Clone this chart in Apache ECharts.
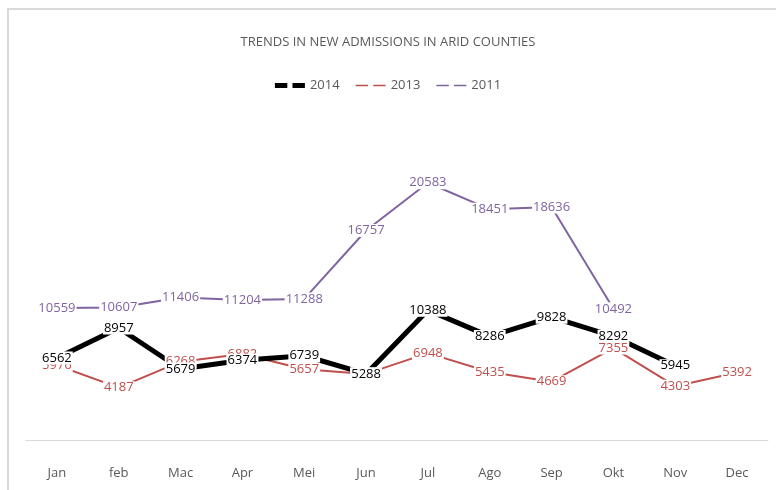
<!DOCTYPE html>
<html>
<head>
<meta charset="utf-8">
<script src="https://cdn.jsdelivr.net/npm/echarts@6/dist/echarts.min.js"></script>
<style>
  html, body { margin: 0; padding: 0; background: #fff; }
  #main { width: 776px; height: 490px; }
</style>
</head>
<body>
<div id="main"></div>
<script>
// data
var months = ['Jan', 'feb', 'Mac', 'Apr', 'Mei', 'Jun', 'Jul', 'Ago', 'Sep', 'Okt', 'Nov', 'Dec']
var y2014 = [6562, 8957, 5679, 6374, 6739, 5288, 10388, 8286, 9828, 8292, 5945, null]
var y2013 = [5976, 4187, 6268, 6882, 5657, 5288, 6948, 5435, 4669, 7355, 4303, 5392]
var y2011 = [10559, 10607, 11406, 11204, 11288, 16757, 20583, 18451, 18636, 10492, null, null]

var font = '"Liberation Sans Narrow", "Open Sans", sans-serif'
var dashThick = 'path://M0,0H12V5H0Z M17,0H29V5H17Z'
var dashThin = 'path://M0,0H0.01V0.01H0Z M0,2H12V3.4H0Z M17,2H29V3.4H17Z M0,5.4H0.01V5.41H0Z'

function lineSeries(name, data, color, width) {
  return {
    name: name,
    type: 'line',
    data: data,
    // tiny invisible symbol so the value labels are drawn
    symbol: 'circle',
    symbolSize: 1,
    showSymbol: true,
    connectNulls: false,
    lineStyle: { color: color, width: width },
    itemStyle: { color: 'rgba(0,0,0,0)' },
    label: {
      show: true,
      position: 'inside',
      color: color,
      fontFamily: font,
      fontSize: 13,
      backgroundColor: '#fff',
      padding: [0, 1]
    },
    labelLayout: { hideOverlap: false },
    z: 2
  }
}

var chart = echarts.init(document.getElementById('main'))
chart.setOption({
  backgroundColor: '#fff',
  animation: false,
  title: {
    text: 'TRENDS IN NEW ADMISSIONS IN ARID COUNTIES',
    left: 'center',
    top: 31,
    textStyle: { color: '#595959', fontSize: 13, fontWeight: 'normal', fontFamily: font }
  },
  legend: {
    top: 74,
    left: 'center',
    itemWidth: 30,
    itemHeight: 6,
    itemGap: 16,
    textStyle: { color: '#595959', fontSize: 13, fontFamily: font },
    data: [
      { name: '2014', icon: dashThick, itemStyle: { color: '#000' } },
      { name: '2013', icon: dashThin, itemStyle: { color: '#c0504d' } },
      { name: '2011', icon: dashThin, itemStyle: { color: '#8064a2' } }
    ]
  },
  graphic: [{
    type: 'rect',
    shape: { x: 8, y: 9, width: 800, height: 500 },
    style: { fill: null, stroke: '#d9d9d9', lineWidth: 2 },
    silent: true
  }],
  grid: { left: 26, right: 8, top: 127.5, bottom: 45 },
  xAxis: {
    type: 'category',
    data: months,
    boundaryGap: true,
    axisLine: { lineStyle: { color: '#d9d9d9', width: 1 } },
    axisTick: { show: false },
    axisLabel: { color: '#595959', fontSize: 13, fontFamily: font, margin: 22 }
  },
  yAxis: {
    type: 'value',
    min: -400,
    max: 25000,
    show: false,
    splitLine: { show: false }
  },
  series: [
    lineSeries('2011', y2011, '#8064a2', 2),
    lineSeries('2013', y2013, '#c0504d', 2),
    lineSeries('2014', y2014, '#000000', 5)
  ]
})
</script>
</body>
</html>
